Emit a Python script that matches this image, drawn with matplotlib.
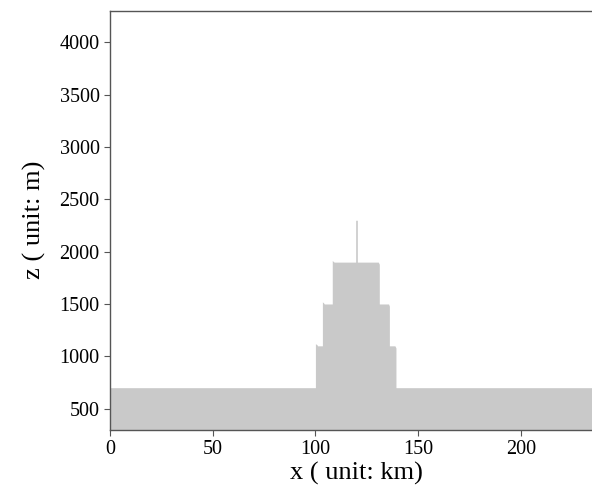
import numpy as np
import matplotlib.pyplot as plt

plt.rcParams['font.family'] = ['Liberation Serif', 'DejaVu Serif']

# terrain profile vertices (km, m)
x_km = [0, 100, 100, 100.8, 101, 103.4, 103.4, 104.0, 104.3, 108.2, 108.2, 108.8, 109.1,
        119.6, 119.6, 120.4, 120.4, 130.6, 131.1, 131.1, 135.6, 136.0, 136.0,
        138.7, 139.2, 139.2, 240]
z_m = [700, 700, 1120, 1110, 1100, 1100, 1520, 1510, 1500, 1500, 1915, 1905, 1900,
       1900, 2300, 2300, 1900, 1900, 1880, 1500, 1500, 1480, 1100,
       1100, 1080, 700, 700]

fig = plt.figure(figsize=(5.92, 4.92), dpi=100)
ax = fig.add_axes([0.1858, 0.127, 0.8328, 0.8506])

ax.fill_between(x_km, z_m, 0, color='#c9c9c9', linewidth=0)

ax.set_xlim(0, 240)
ax.set_ylim(300, 4300)
ax.set_xticks([0, 50, 100, 150, 200])
ax.set_yticks(np.arange(500, 4001, 500))

for s in ax.spines.values():
    s.set_color('#555555')
    s.set_linewidth(1.0)
ax.tick_params(labelsize=14.5, length=4, color='#555555', labelcolor='black')

ax.set_xlabel('x ( unit: km)', fontsize=19, labelpad=2)
ax.set_ylabel('z ( unit: m)', fontsize=19, labelpad=10)

fig.savefig('out.png', dpi=100)
